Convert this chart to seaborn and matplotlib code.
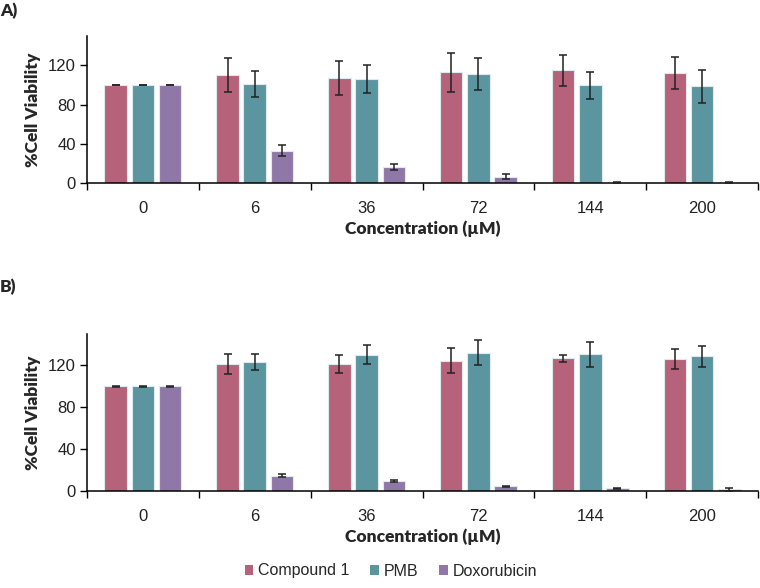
import numpy as np
import pandas as pd
import matplotlib
matplotlib.use("Agg")
import matplotlib.pyplot as plt
from matplotlib.patches import Patch
from matplotlib.ticker import FixedLocator
import seaborn as sns

concentrations = ["0", "6", "36", "72", "144", "200"]
series = ["Compound 1", "PMB", "Doxorubicin"]
colors = ["#B5627A", "#5A95A0", "#8F78A8"]

# Panel A
a_compound1 = [100, 110, 107, 113, 115, 112]
a_compound1_err = [0.5, 17.5, 17, 20, 16, 16.5]
a_pmb = [100, 101, 106, 111.5, 99.5, 98.5]
a_pmb_err = [0.5, 13.5, 14, 16.5, 13.5, 17]
a_dox = [100, 33, 16.6, 6.5, 0.5, 0.5]
a_dox_err = [0.5, 5.5, 3, 2.2, 0.3, 0.3]

# Panel B
b_compound1 = [100, 121.3, 121, 124.4, 126.7, 126.4]
b_compound1_err = [0.5, 9.5, 8.6, 12, 3, 9.4]
b_pmb = [100, 123.2, 130.2, 132, 130.5, 128.6]
b_pmb_err = [0.5, 8, 9.2, 12, 11.6, 9.9]
b_dox = [100, 14.6, 9.5, 4.5, 2.5, 1.6]
b_dox_err = [0.5, 1.6, 1.3, 0.5, 0.5, 1.2]

sns.set_theme(style="white")
plt.rcParams["font.family"] = ["Liberation Sans", "DejaVu Sans"]

fig = plt.figure(figsize=(7.6, 5.88), dpi=100)
axA = fig.add_axes([87/760, (588-183)/588, 671/760, 147/588])
axB = fig.add_axes([87/760, (588-491)/588, 671/760, 157/588])

label_font = dict(family=["Lato", "DejaVu Sans"], fontweight="heavy", fontsize=12.5)


def draw(ax, vals, errs):
    rows = []
    for s, v in zip(series, vals):
        for c, y in zip(concentrations, v):
            rows.append({"Concentration": c, "Treatment": s, "Viability": y})
    df = pd.DataFrame(rows)
    sns.barplot(data=df, x="Concentration", y="Viability", hue="Treatment",
                order=concentrations, hue_order=series, palette=colors,
                width=0.73, gap=0.17, errorbar=None, ax=ax,
                edgecolor="#dfeaee", linewidth=0.8, saturation=1)
    for cont, e in zip(ax.containers, errs):
        xs = [p.get_x() + p.get_width() / 2 for p in cont.patches]
        hs = [p.get_height() for p in cont.patches]
        ax.errorbar(xs, hs, yerr=e, fmt="none", ecolor="#222222",
                    elinewidth=1.1, capsize=3.2, capthick=1.1, zorder=5)
    ax.set_xlim(-0.5, 5.5)
    ax.set_ylim(0, 150)
    ax.set_yticks([0, 40, 80, 120])
    ax.xaxis.set_minor_locator(FixedLocator(np.arange(-0.5, 6.0, 1.0)))
    ax.tick_params(axis="x", which="major", length=0, pad=13, labelsize=12)
    ax.tick_params(axis="x", which="minor", length=5, width=1, color="black",
                   direction="out", bottom=True)
    ax.tick_params(axis="y", which="major", length=5, width=1, color="black",
                   direction="out", left=True, labelsize=12, pad=3)
    for lab in ax.get_xticklabels() + ax.get_yticklabels():
        lab.set_color("#222222")
    sns.despine(ax=ax)
    for sp in ["left", "bottom"]:
        ax.spines[sp].set_color("black")
        ax.spines[sp].set_linewidth(1.1)
    ax.set_xlabel("Concentration (\u00b5M)", labelpad=3, **label_font)
    ax.set_ylabel("%Cell Viability", labelpad=5, **label_font)
    if ax.get_legend() is not None:
        ax.get_legend().remove()


draw(axA, [a_compound1, a_pmb, a_dox], [a_compound1_err, a_pmb_err, a_dox_err])
draw(axB, [b_compound1, b_pmb, b_dox], [b_compound1_err, b_pmb_err, b_dox_err])

fig.text(0.0, 1 - 11/588, "A)", ha="left", va="center", **label_font)
fig.text(0.0, 1 - 287/588, "B)", ha="left", va="center", **label_font)

handles = [Patch(facecolor=c, edgecolor="none") for c in colors]
fig.legend(handles, series, loc="center", bbox_to_anchor=(391/760, 1 - 571/588),
           ncol=3, frameon=False, fontsize=11.5, handlelength=0.55,
           handleheight=0.55, handletextpad=0.3, columnspacing=1.3)

fig.savefig("out.png", dpi=100)
